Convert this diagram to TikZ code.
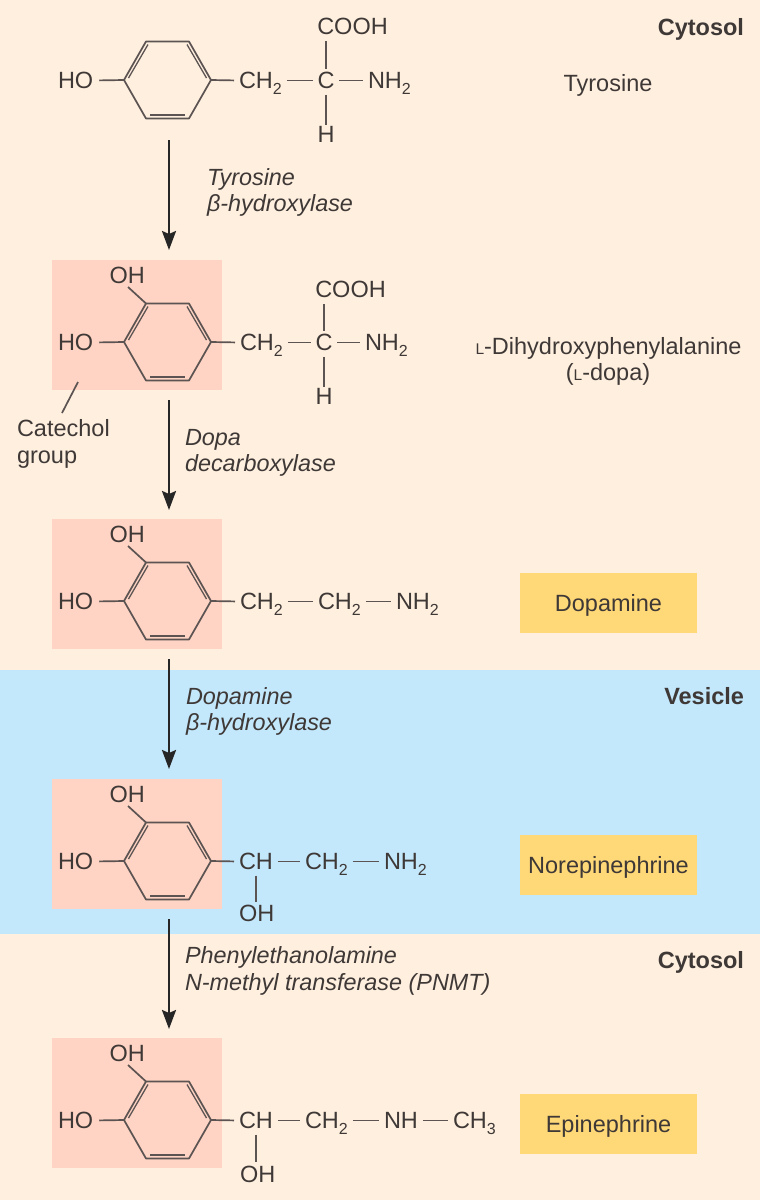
\documentclass[tikz,border=0pt]{standalone}
\usepackage{fontspec}
\setmainfont{Liberation Sans}
\usetikzlibrary{arrows.meta}
\definecolor{bgc}{HTML}{FFEFDF}
\definecolor{pinkc}{HTML}{FFD4C4}
\definecolor{bluec}{HTML}{C3E7FB}
\definecolor{yelc}{HTML}{FFD878}
\definecolor{inkc}{HTML}{3E3836}
\definecolor{bondc}{HTML}{5C5452}
\newcommand{\subs}[1]{\raisebox{-6pt}{\fontsize{16}{16}\selectfont #1}}
\newcommand{\smL}{{\fontsize{15.5}{16}\selectfont L}}
\newcommand{\boxtext}[1]{\raisebox{-8.5pt}[0pt][0pt]{#1}}
\tikzset{
  x=1pt,y=-1pt,
  txt/.style={inner sep=0pt,outer sep=0pt,text=inkc,font=\fontsize{23.5}{26}\selectfont},
  atom/.style={txt,anchor=base west,text height=16pt,text depth=0pt},
  catom/.style={txt,anchor=base,text height=16pt,text depth=0pt},
  plainlab/.style={txt,anchor=base},
  rlab/.style={txt,anchor=base east,font=\fontsize{23.5}{26}\selectfont\bfseries},
  enz/.style={txt,anchor=base west,font=\fontsize{23.4}{26}\selectfont\itshape},
  leftlab/.style={txt,anchor=base west},
  bond/.style={draw=bondc,line width=1.7pt,shorten >=5pt,shorten <=5pt},
  ringline/.style={draw=bondc,line width=1.7pt,line join=round},
  ringin/.style={draw=bondc,line width=1.3pt},
  rxn/.style={draw=black!85,line width=2.4pt,-{Stealth[length=19pt,width=14pt,inset=3pt]}},
  ptr/.style={draw=bondc,line width=1.7pt},
  catbox/.style={fill=pinkc},
  namebox/.style={fill=yelc,inner sep=0pt,minimum width=177pt,minimum height=60pt,text=inkc,font=\fontsize{23.5}{26}\selectfont}
}
% #1 prefix, #2 x of left vertex, #3 y of centre
\newcommand{\ringmol}[3]{%
  \coordinate (#1L) at (#2,#3);
  \coordinate (#1UL) at (#2+22,#3-38.5);
  \coordinate (#1UR) at (#2+65,#3-38.5);
  \coordinate (#1R) at (#2+87,#3);
  \coordinate (#1LR) at (#2+65,#3+38.5);
  \coordinate (#1LL) at (#2+22,#3+38.5);
  \draw[ringline] (#1L)--(#1UL)--(#1UR)--(#1R)--(#1LR)--(#1LL)--cycle;
  \draw[ringin] (#2+4.5,#3-2)--(#2+24,#3-35.5);
  \draw[ringin] (#2+82.5,#3-2)--(#2+63,#3-35.5);
  \draw[ringin] (#2+26,#3+35)--(#2+61,#3+35);
  \node[atom] (#1HO) at (58,#3+8.5) {HO};
  \draw[ptr,shorten <=6pt] (#1HO.east)--(#1L);
}
\newcommand{\catechol}[3]{%
  \fill[catbox] (52,#3-82) rectangle (222,#3+48);
  \ringmol{#1}{#2}{#3}
  \node[atom] (#1OH) at (109.5,#3-58.5) {OH};
  \draw[ptr] (128,#3-55)--(#1UL);
}
\begin{document}
\begin{tikzpicture}
\useasboundingbox (0,0) rectangle (760,1200);
\fill[bgc] (0,0) rectangle (760,1200);
\fill[bluec] (0,670) rectangle (760,934);

% Tyrosine
\ringmol{a}{124}{80}
\node[atom] (aCH) at (239,88.5) {CH\subs{2}};
\node[catom] (aC) at (326,88.5) {C};
\node[atom] (aN) at (368,88.5) {NH\subs{2}};
\node[catom] (aT) at (352.5,34.5) {COOH};
\node[catom] (aH) at (326,142.5) {H};
\draw[ptr,shorten >=5pt] (aR)--(aCH.west);
\draw[bond] (aCH.east)--(aC.west);
\draw[bond] (aC.east)--(aN.west);
\draw[bond,shorten >=6pt,shorten <=4pt] (aC.north)--(aC.north|-aT.south);
\draw[bond,shorten >=18pt,shorten <=6pt] (aC.south)--(aH.south);
\node[plainlab] (tyr) at (608,91.5) {Tyrosine};

% L-dopa
\catechol{b}{124}{342}
\node[atom] (bCH) at (240,350.5) {CH\subs{2}};
\node[catom] (bC) at (324,350.5) {C};
\node[atom] (bN) at (365,350.5) {NH\subs{2}};
\node[catom] (bT) at (350.5,297.5) {COOH};
\node[catom] (bH) at (324,404.5) {H};
\draw[ptr,shorten >=5pt] (bR)--(bCH.west);
\draw[bond] (bCH.east)--(bC.west);
\draw[bond] (bC.east)--(bN.west);
\draw[bond,shorten >=6pt,shorten <=4pt] (bC.north)--(bC.north|-bT.south);
\draw[bond,shorten >=18pt,shorten <=6pt] (bC.south)--(bH.south);
\node[plainlab] (ld) at (608.5,354.5) {\smL-Dihydroxyphenylalanine};
\node[plainlab] (ld2) at (608,380.5) {(\smL-dopa)};
\coordinate (catA) at (78,382);
\coordinate (catB) at (62,413);
\draw[ptr] (catA)--(catB);
\node[leftlab] (cat1) at (17,436.5) {Catechol};
\node[leftlab] (cat2) at (17,463.5) {group};

% Dopamine
\catechol{c}{124}{601}
\node[atom] (cCH) at (240,609.5) {CH\subs{2}};
\node[atom] (cCHb) at (318,609.5) {CH\subs{2}};
\node[atom] (cN) at (396,609.5) {NH\subs{2}};
\draw[ptr,shorten >=5pt] (cR)--(cCH.west);
\draw[bond] (cCH.east)--(cCHb.west);
\draw[bond] (cCHb.east)--(cN.west);
\node[namebox] (dop) at (608.5,603) {\boxtext{Dopamine}};

% Norepinephrine
\catechol{d}{124}{861}
\node[atom] (dCH) at (239,869.5) {CH};
\node[atom] (dCHb) at (305,869.5) {CH\subs{2}};
\node[atom] (dN) at (384,869.5) {NH\subs{2}};
\node[atom] (dO) at (239,921.5) {OH};
\draw[ptr,shorten >=5pt] (dR)--(dCH.west);
\draw[bond] (dCH.east)--(dCHb.west);
\draw[bond] (dCHb.east)--(dN.west);
\draw[bond,shorten <=6pt,shorten >=4pt] (dCH.south)--(dCH.south|-dO.north);
\node[namebox] (nor) at (608.5,864.5) {\boxtext{Norepinephrine}};

% Epinephrine
\catechol{e}{124}{1120}
\node[atom] (eCH) at (239,1128.5) {CH};
\node[atom] (eCHb) at (305,1128.5) {CH\subs{2}};
\node[atom] (eN) at (384,1128.5) {NH};
\node[atom] (eM) at (453,1128.5) {CH\subs{3}};
\node[atom] (eO) at (240,1182.5) {OH};
\draw[ptr,shorten >=5pt] (eR)--(eCH.west);
\draw[bond] (eCH.east)--(eCHb.west);
\draw[bond] (eCHb.east)--(eN.west);
\draw[bond] (eN.east)--(eM.west);
\draw[bond,shorten <=6pt,shorten >=5pt] (eCH.south)--(eCH.south|-eO.north);
\node[namebox] (epi) at (608.5,1123.5) {\boxtext{Epinephrine}};

% Reaction arrows
\foreach \n/\ya/\yb in {p/140/250,q/400/510,r/659/769,s/919/1029}{
  \coordinate (\n a) at (169,\ya);
  \coordinate (\n b) at (169,\yb);
  \draw[rxn] (\n a)--(\n b);
}

% Enzymes
\node[enz] (e1) at (207,185) {Tyrosine};
\node[enz] (e2) at (207,211) {β-hydroxylase};
\node[enz] (e3) at (185,445) {Dopa};
\node[enz] (e4) at (185,471) {decarboxylase};
\node[enz] (e5) at (186,704) {Dopamine};
\node[enz] (e6) at (186,730) {β-hydroxylase};
\node[enz] (e7) at (185,963) {Phenylethanolamine};
\node[enz] (e8) at (185,990) {N-methyl transferase (PNMT)};

% Compartments
\node[rlab] (z1) at (744,35.5) {Cytosol};
\node[rlab] (z2) at (744,704.5) {Vesicle};
\node[rlab] (z3) at (744,968.5) {Cytosol};
\end{tikzpicture}
\end{document}
